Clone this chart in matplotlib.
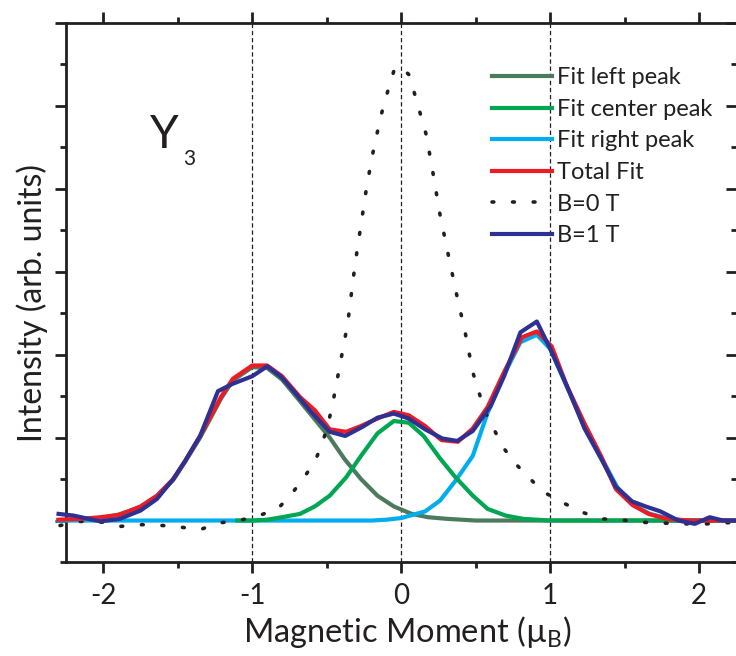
import numpy as np
import matplotlib.pyplot as plt
from matplotlib.ticker import MultipleLocator

plt.rcParams['font.family'] = ['Lato', 'DejaVu Sans']
plt.rcParams['mathtext.fontset'] = 'custom'
plt.rcParams['mathtext.rm'] = 'Lato'
plt.rcParams['axes.unicode_minus'] = False

INK = '#231f20'

# fitted components (x in mu_B, intensity in arb. units)
left_x = [-2.30, -2.0, -1.9, -1.75, -1.64, -1.53, -1.45, -1.35, -1.21, -1.13, -1.0, -0.9,
          -0.8, -0.68, -0.58, -0.48, -0.38, -0.27, -0.16, -0.05, 0.07, 0.18, 0.31, 0.5, 2.3]
left_y = [0.0, 0.03, 0.07, 0.16, 0.29, 0.49, 0.71, 1.0, 1.47, 1.69, 1.85, 1.84,
          1.70, 1.44, 1.22, 1.0, 0.74, 0.50, 0.30, 0.17, 0.08, 0.04, 0.02, 0.0, 0.0]

center_x = [-1.1, -1.0, -0.9, -0.8, -0.68, -0.58, -0.48, -0.37, -0.27, -0.16, -0.05, 0.05,
            0.15, 0.26, 0.36, 0.48, 0.58, 0.70, 0.82, 1.0, 2.3]
center_y = [0.0, 0.0, 0.01, 0.04, 0.08, 0.17, 0.30, 0.52, 0.78, 1.05, 1.20, 1.18,
            1.02, 0.75, 0.53, 0.30, 0.14, 0.06, 0.02, 0.0, 0.0]

right_x = [-2.30, -0.2, -0.1, 0.0, 0.16, 0.26, 0.36, 0.48, 0.58, 0.69, 0.80, 0.91, 1.0,
           1.11, 1.23, 1.34, 1.45, 1.56, 1.67, 1.78, 1.9, 2.3]
right_y = [0.0, 0.0, 0.01, 0.03, 0.11, 0.24, 0.47, 0.78, 1.30, 1.76, 2.15, 2.24, 2.07,
           1.62, 1.15, 0.77, 0.40, 0.18, 0.08, 0.03, 0.0, 0.0]

total_x = [-2.30, -2.15, -2.02, -1.89, -1.75, -1.64, -1.53, -1.45, -1.35, -1.21, -1.13,
           -1.0, -0.9, -0.8, -0.68, -0.58, -0.48, -0.37, -0.27, -0.16, -0.05, 0.05, 0.16,
           0.27, 0.38, 0.48, 0.58, 0.69, 0.81, 0.91, 1.01, 1.11, 1.23, 1.34, 1.44, 1.55,
           1.66, 1.78, 1.94, 2.3]
total_y = [0.01, 0.02, 0.04, 0.07, 0.17, 0.30, 0.50, 0.72, 1.02, 1.49, 1.71,
           1.87, 1.87, 1.74, 1.49, 1.33, 1.10, 1.07, 1.14, 1.23, 1.31, 1.27, 1.14,
           0.97, 0.95, 1.11, 1.37, 1.79, 2.21, 2.28, 2.10, 1.63, 1.17, 0.78, 0.38, 0.19,
           0.08, 0.02, 0.0, 0.0]

# measured spectra
b0_x = [-2.29, -2.15, -2.0, -1.88, -1.74, -1.6, -1.48, -1.35, -1.23, -1.09, -0.97, -0.83,
        -0.745, -0.66, -0.58, -0.53, -0.49, -0.46, -0.41, -0.36, -0.31, -0.27, -0.23,
        -0.18, -0.12, -0.05, -0.01, 0.05, 0.094, 0.168, 0.215, 0.26, 0.315, 0.37, 0.43,
        0.48, 0.56, 0.62, 0.68, 0.77, 0.85, 0.95, 1.08, 1.2, 1.34, 1.47, 1.6, 1.75, 1.9,
        2.05, 2.25]
b0_y = [-0.06, -0.01, -0.02, -0.07, -0.05, -0.06, -0.08, -0.11, -0.03, 0.0, 0.05, 0.14,
        0.30, 0.50, 0.71, 0.93, 1.17, 1.41, 1.89, 2.37, 3.09, 3.57, 4.05,
        4.53, 5.0, 5.42, 5.48, 5.38, 5.12, 4.65, 4.17, 3.69, 3.21, 2.74, 2.26,
        1.79, 1.32, 1.11, 0.89, 0.68, 0.53, 0.35, 0.22, 0.11, 0.02, 0.01, -0.02, -0.03, -0.04,
        -0.04, -0.02]

b1_x = [-2.30, -2.2, -2.02, -1.89, -1.75, -1.64, -1.53, -1.45, -1.35, -1.23, -1.13, -1.0,
        -0.9, -0.81, -0.745, -0.61, -0.48, -0.376, -0.26, -0.16, -0.05, 0.05, 0.16, 0.275,
        0.376, 0.48, 0.6, 0.69, 0.80, 0.91, 1.0, 1.11, 1.23, 1.34, 1.44, 1.55, 1.64, 1.74,
        1.86, 1.97, 2.07, 2.16, 2.3]
b1_y = [0.08, 0.06, -0.01, 0.02, 0.12, 0.26, 0.50, 0.72, 1.02, 1.56, 1.65, 1.74,
        1.86, 1.74, 1.61, 1.32, 1.07, 1.02, 1.13, 1.24, 1.29, 1.23, 1.10, 0.99,
        0.96, 1.08, 1.38, 1.74, 2.27, 2.40, 2.07, 1.63, 1.11, 0.75, 0.41, 0.23, 0.17, 0.11,
        0.0, -0.04, 0.04, 0.0, 0.0]

fig = plt.figure(figsize=(7.36, 6.56), dpi=100)
ax = fig.add_axes([66 / 736, 94 / 656, 670.5 / 736, 539 / 656])

for xv in (-1, 0, 1):
    ax.axvline(xv, color=INK, lw=0.9, dashes=(3.5, 2.2), zorder=1)

lw = 3.0
ax.plot(left_x, left_y, color='#4c7a5c', lw=lw, label='Fit left peak', zorder=2, clip_on=False)
ax.plot(right_x, right_y, color='#00aeef', lw=lw, label='Fit right peak', zorder=3, clip_on=False)
ax.plot(center_x, center_y, color='#00a651', lw=lw, label='Fit center peak', zorder=4, clip_on=False)
ax.plot(b0_x, b0_y, color=INK, lw=2.6, linestyle=(0, (0.5, 5.2)), dash_capstyle='round',
        label='B=0 T', zorder=5, clip_on=False)
ax.plot(total_x, total_y, color='#ed1c24', lw=lw, label='Total Fit', zorder=6, clip_on=False)
ax.plot(b1_x, b1_y, color='#2e3192', lw=lw, label='B=1 T', zorder=7, clip_on=False)

ax.set_xlim(-2.25, 2.25)
ax.set_ylim(-0.5, 6.0)
ax.xaxis.set_major_locator(MultipleLocator(1))
ax.xaxis.set_minor_locator(MultipleLocator(0.5))
ax.yaxis.set_major_locator(MultipleLocator(1))
ax.yaxis.set_minor_locator(MultipleLocator(0.5))

for s in ax.spines.values():
    s.set_linewidth(2.0)
    s.set_color(INK)
ax.tick_params(which='both', direction='out', width=2.0, color=INK, top=True,
               labelsize=20, labelcolor=INK, left=True, right=False, labelleft=False)
ax.tick_params(which='major', length=8)
ax.tick_params(which='minor', length=4.3)
ax.tick_params(axis='x', pad=7)

# inward ticks along the right edge
ry = ax.secondary_yaxis('right')
ry.yaxis.set_major_locator(MultipleLocator(1))
ry.yaxis.set_minor_locator(MultipleLocator(0.5))
ry.tick_params(which='both', direction='in', width=2.0, color=INK, labelright=False)
ry.tick_params(which='major', length=8)
ry.tick_params(which='minor', length=4.3)
ry.spines['right'].set_linewidth(2.0)

ax.set_xlabel(r'Magnetic Moment ($\mathrm{µ_B}$)', fontsize=23.5, color=INK, labelpad=4)
ax.set_ylabel('Intensity (arb. units)', fontsize=23, color=INK, labelpad=5)
ax.xaxis.label.set_x(0.509)
ax.yaxis.label.set_y(0.48)

ax.text(0.125, 0.768, 'Y', fontsize=33, color=INK, transform=ax.transAxes, va='baseline')
ax.text(0.1745, 0.7366, '3', fontsize=15, color=INK, transform=ax.transAxes, va='baseline')

handles, labels = ax.get_legend_handles_labels()
order = ['Fit left peak', 'Fit center peak', 'Fit right peak', 'Total Fit', 'B=0 T', 'B=1 T']
hmap = dict(zip(labels, handles))
ax.legend([hmap[k] for k in order], order, loc='upper left', bbox_to_anchor=(0.635, 0.918),
          frameon=False, fontsize=17, borderpad=0, borderaxespad=0, handlelength=2.55,
          handletextpad=0.22, labelspacing=0.45, labelcolor=INK)

fig.savefig('out.png', dpi=100)
